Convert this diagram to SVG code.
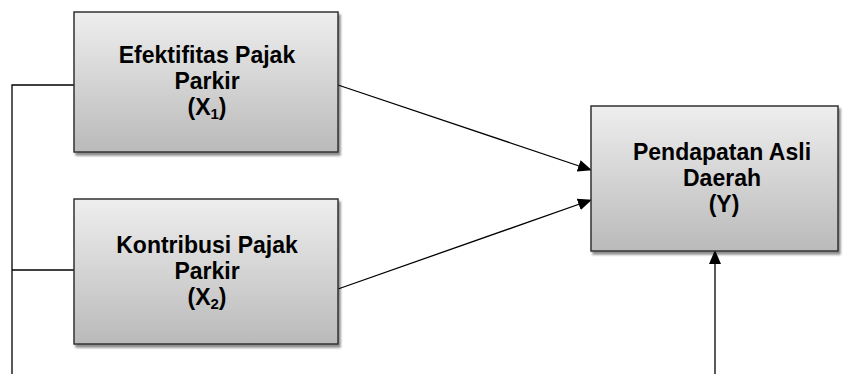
<svg xmlns="http://www.w3.org/2000/svg" width="844" height="374" viewBox="0 0 844 374">
<defs>
<linearGradient id="g" x1="0" y1="0" x2="0" y2="1">
<stop offset="0" stop-color="#eeeeee"/>
<stop offset="1" stop-color="#bababa"/>
</linearGradient>
<marker id="ah" markerWidth="14" markerHeight="12" refX="13" refY="6" orient="auto" markerUnits="userSpaceOnUse">
<path d="M0,0 L14,6 L0,12 Z" fill="#000"/>
</marker>
<filter id="sh" x="-5%" y="-5%" width="115%" height="120%">
<feGaussianBlur in="SourceAlpha" stdDeviation="1"/>
<feOffset dx="2" dy="3"/>
<feComponentTransfer><feFuncA type="linear" slope="0.45"/></feComponentTransfer>
<feMerge><feMergeNode/><feMergeNode in="SourceGraphic"/></feMerge>
</filter>
</defs>
<style>
.box{fill:url(#g);stroke:#333;stroke-width:1.5;filter:url(#sh)}
.t{font-weight:bold;font-size:23px;fill:#000;text-anchor:middle}
.sub{font-size:15px}
.c{stroke:#000;stroke-width:1.3;fill:none}
</style>
<g id="connectors">
<polyline class="c" points="74,85 12,85 12,374"/>
<line class="c" x1="12" y1="270" x2="74" y2="270"/>
<line class="c" x1="338" y1="85" x2="591" y2="170" marker-end="url(#ah)"/>
<line class="c" x1="338" y1="289" x2="591" y2="200" marker-end="url(#ah)"/>
<line class="c" x1="715" y1="374" x2="715" y2="251" marker-end="url(#ah)"/>
</g>
<g font-family="Liberation Sans, Arial, sans-serif">
<g id="x1">
<rect class="box" x="74" y="12" width="264" height="140"/>
<text class="t" x="207" y="63">Efektifitas Pajak</text>
<text class="t" x="207" y="89">Parkir</text>
<text class="t" x="207" y="115">(X<tspan class="sub" dy="4">1</tspan><tspan dy="-4">)</tspan></text>
</g>
<g id="x2">
<rect class="box" x="74" y="199" width="264" height="145"/>
<text class="t" x="207" y="253">Kontribusi Pajak</text>
<text class="t" x="207" y="279">Parkir</text>
<text class="t" x="207" y="305">(X<tspan class="sub" dy="4">2</tspan><tspan dy="-4">)</tspan></text>
</g>
<g id="y">
<rect class="box" x="591" y="106" width="247" height="145"/>
<text class="t" x="722" y="160">Pendapatan Asli</text>
<text class="t" x="722" y="186">Daerah</text>
<text class="t" x="724" y="212">(Y)</text>
</g>
</g>
</svg>
